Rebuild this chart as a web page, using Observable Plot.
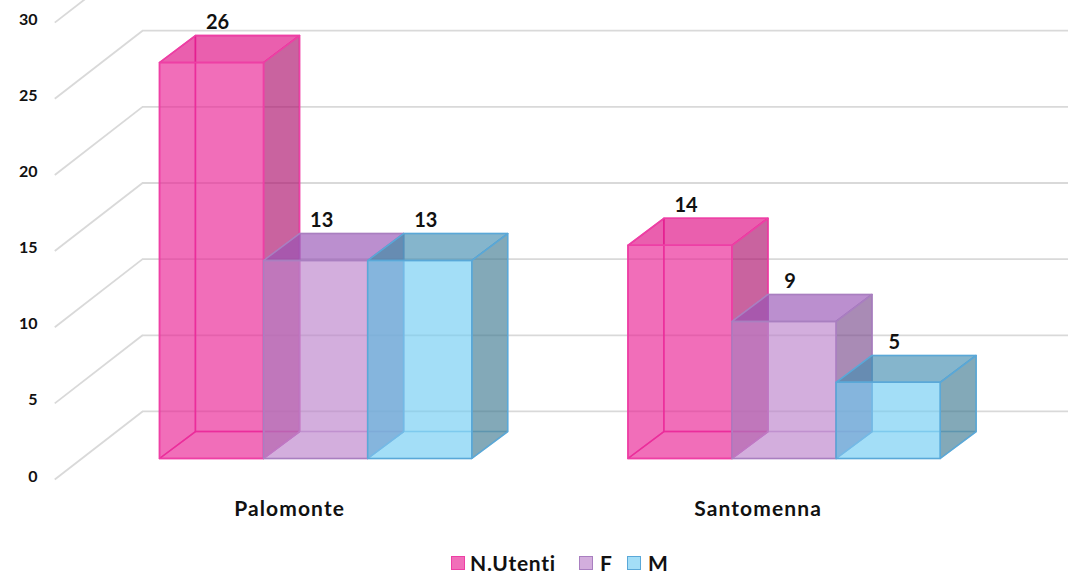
<!DOCTYPE html>
<html>
<head>
<meta charset="utf-8">
<script src="https://cdn.jsdelivr.net/npm/d3@7"></script>
<script src="https://cdn.jsdelivr.net/npm/@observablehq/plot@0.6"></script>
<style>
  html, body { margin: 0; padding: 0; background: #fff; }
  body { width: 1068px; font-family: Lato, sans-serif; overflow: hidden; }
  svg { display: block; }
  .cat text { letter-spacing: 1.1px; }
  #legend { height: 35px; position: relative; font-weight: 700; font-size: 21px; letter-spacing: 0.75px; color: #111; }
  #legend span { position: absolute; top: 12px; line-height: 22px; white-space: nowrap; }
  #legend i { position: absolute; top: 16px; width: 14px; height: 14px; box-sizing: border-box; border: 1px solid; }
</style>
</head>
<body>
<div id="chart"></div>
<div id="legend"></div>
<script>
const categories = ["Palomonte", "Santomenna"];
const seriesNames = ["N.Utenti", "F", "M"];
const nUtenti = [26, 14];
const femmine = [13, 9];
const maschi = [13, 5];
const yTicks = [0, 5, 10, 15, 20, 25, 30];

const seriesValues = [nUtenti, femmine, maschi];
const groupStart = [0, 4.5];

const styles = [
  {front: "#ea2094", side: "#ac0f6c", top: "#df0983", edge: "#ee3fa5", swatch: "#f16eb9"},
  {front: "#bb82cb", side: "#7b4d8d", top: "#9753b6", edge: "#a97fc0", swatch: "#d3aedd"},
  {front: "#72cdf3", side: "#417b92", top: "#448db1", edge: "#5aa8d8", swatch: "#a3def7"}
];

// Depth of a bar and of the chart floor, in data units of the two scales
const depthX = 0.345, depthY = 1.77, wallX = -0.163, wallY = 3.09, lipX = -1.006, lipY = -1.38, rightX = 8.74;

const bars = [];
categories.forEach((category, g) => seriesNames.forEach((name, s) => {
  bars.push({category, name, s, x: groupStart[g] + s, value: seriesValues[s][g]});
}));

function face(bar, kind) {
  const {x: a, value: v} = bar;
  const b = a + 1, dx = depthX, dy = depthY;
  const corners = {
    front:  [[a, 0], [b, 0], [b, v], [a, v]],
    side:   [[b, 0], [b + dx, dy], [b + dx, v + dy], [b, v]],
    top:    [[a, v], [b, v], [b + dx, v + dy], [a + dx, v + dy]],
    back:   [[a + dx, dy], [b + dx, dy], [b + dx, v + dy], [a + dx, v + dy]],
    left:   [[a, 0], [a + dx, dy], [a + dx, v + dy], [a, v]],
    bottom: [[a, 0], [b, 0], [b + dx, dy], [a + dx, dy]]
  }[kind];
  return corners.map(([x, y]) => ({x, y}));
}

const marks = [
  Plot.ruleY(yTicks, {y: d => d + wallY, x1: wallX, x2: rightX, stroke: "#d9d9d9", strokeWidth: 1.8}),
  Plot.link(yTicks, {x1: lipX, y1: d => d + lipY, x2: wallX, y2: d => d + wallY, stroke: "#d9d9d9", strokeWidth: 1.8}),
  Plot.axisY(yTicks, {anchor: "left", tickSize: 0, tickPadding: 3, dy: 18, fontSize: 16, fontWeight: 700, fill: "#111", label: null})
];

for (const bar of bars) {
  const st = styles[bar.s];
  for (const kind of ["back", "left", "bottom"]) {
    marks.push(Plot.line(face(bar, kind), {
      x: "x", y: "y", curve: "linear-closed", fill: "none", stroke: st.edge, strokeWidth: 1.5, strokeOpacity: bar.s === 0 ? 0.8 : 0.4
    }));
  }
  for (const kind of ["side", "top", "front"]) {
    marks.push(Plot.line(face(bar, kind), {
      x: "x", y: "y", curve: "linear-closed", fill: st[kind], fillOpacity: 0.65, stroke: st.edge, strokeWidth: 1.5
    }));
  }
}

marks.push(Plot.text(bars, {
  x: d => d.x + 0.5, y: "value", text: d => String(d.value), dx: 6, dy: -40,
  fontSize: 20, fontWeight: 700, fill: "#111"
}));
marks.push(Plot.text(categories, {
  x: (d, i) => groupStart[i] + 1.5, y: () => 0, text: d => d, dx: -26, dy: 51,
  fontSize: 21, fontWeight: 700, fill: "#111", className: "cat"
}));

const pxPerSlot = 104.1, pxPerUnit = 15.23;
const chart = Plot.plot({
  width: 1068, height: 540,
  marginLeft: 40, marginRight: 0, marginTop: 0, marginBottom: 0,
  x: {type: "linear", domain: [0, 7.5], range: [159, 159 + 7.5 * pxPerSlot], axis: null},
  y: {type: "linear", domain: [0, 30], range: [458, 458 - 30 * pxPerUnit], axis: null},
  style: {fontFamily: "Lato, sans-serif", background: "#fff", overflow: "hidden"},
  marks
});
document.getElementById("chart").append(chart);

const legend = document.getElementById("legend");
const legendSwatchX = [451, 579, 627], legendTextX = [470, 600, 648];
seriesNames.forEach((name, i) => {
  const sw = document.createElement("i");
  sw.style.left = legendSwatchX[i] + "px";
  sw.style.background = styles[i].swatch;
  sw.style.borderColor = styles[i].edge;
  legend.append(sw);
  const label = document.createElement("span");
  label.style.left = legendTextX[i] + "px";
  label.textContent = name;
  legend.append(label);
});
</script>
</body>
</html>
